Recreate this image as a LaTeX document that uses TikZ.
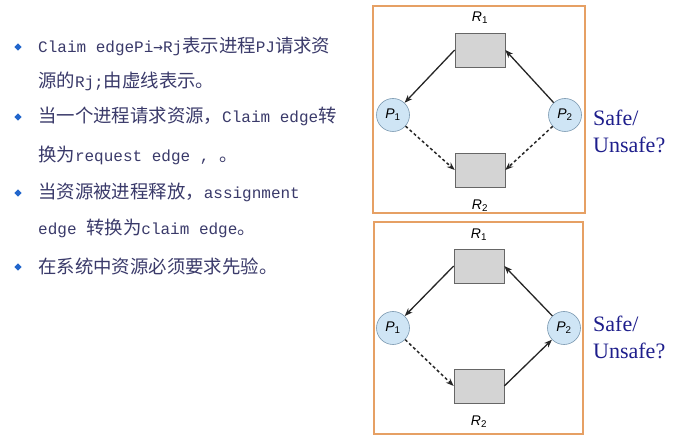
\documentclass[tikz,border=0pt]{standalone}
\usepackage{fontspec}
\setmainfont{Liberation Sans}
\newfontfamily\cjkfam{Noto Sans CJK SC}
\newfontfamily\monofam{Liberation Mono}
\newfontfamily\dvs{DejaVu Sans Mono}
\newfontfamily\tms{Liberation Serif}
\newcommand{\cjk}{\cjkfam\fontsize{18.4}{18.4}\selectfont}
\newcommand{\mono}{\monofam\fontsize{16}{16}\selectfont}
\usetikzlibrary{arrows.meta,shapes.geometric}
\definecolor{txt}{HTML}{3A3A6A}
\definecolor{bul}{HTML}{2266CC}
\definecolor{frame}{HTML}{E6A064}
\definecolor{safe}{HTML}{1E1E8C}
\definecolor{resfill}{HTML}{D4D4D4}
\definecolor{procfill}{HTML}{CFE5F5}
\definecolor{procdraw}{HTML}{7A98B0}
\tikzset{
  line/.style={font=\fontsize{16}{16}\selectfont, text=txt, anchor=base west, inner sep=0pt},
  bullet/.style={diamond, fill=bul, inner sep=0pt, minimum size=7.5pt},
  framebox/.style={draw=frame, line width=2.5pt},
  res/.style={draw=black!60, fill=resfill, minimum width=50pt, minimum height=34pt, inner sep=0pt, line width=0.6pt},
  proc/.style={circle, draw=procdraw, fill=procfill, minimum size=33pt, inner sep=0pt, line width=0.6pt, font=\fontsize{14}{14}\selectfont},
  lab/.style={font=\fontsize{14}{14}\selectfont, inner sep=0pt},
  safetxt/.style={font=\tms\fontsize{22}{27}\selectfont, text=safe, align=left, anchor=west, inner sep=0pt},
  req/.style={-{Stealth[length=8pt,width=6pt]}, line width=1.3pt, black!85},
  claim/.style={-{Stealth[length=8pt,width=6pt]}, line width=1.5pt, black!85, dash pattern=on 3pt off 2.5pt},
}
\begin{document}
\begin{tikzpicture}[x=1pt,y=-1pt]
\useasboundingbox (0,0) rectangle (680,443);
\fill[white] (0,0) rectangle (680,443);
% left text
\node[bullet] (b1) at (18,47) {};
\node[bullet] (b2) at (18,117) {};
\node[bullet] (b3) at (18,193) {};
\node[bullet] (b4) at (18,267) {};
\node[line] (l1) at (38,53) {{\mono Claim edgePi}{\dvs\fontsize{16}{16}\selectfont →}{\mono Rj}{\cjk 表示进程}{\mono PJ}{\cjk 请求资}};
\node[line] (l2) at (38,88) {{\cjk 源的}{\mono Rj;}{\cjk 由虚线表示。}};
\node[line] (l3) at (38,123) {{\cjk 当一个进程请求资源，}{\mono Claim edge}{\cjk 转}};
\node[line] (l4) at (38,162) {{\cjk 换为}{\mono request edge ,~}{\cjk 。}};
\node[line] (l5) at (38,199) {{\cjk 当资源被进程释放，}{\mono assignment}};
\node[line] (l6) at (38,235) {{\mono edge }{\cjk 转换为}{\mono claim edge}{\cjk 。}};
\node[line] (l7) at (38,274) {{\cjk 在系统中资源必须要求先验。}};
% top diagram
\draw[framebox] (373,6) rectangle (585,213);
\node[res] (r1a) at (480,50) {};
\node[res] (r2a) at (480,170) {};
\node[lab] (r1al) at (480,18) {\itshape R\textsubscript{\upshape 1}};
\node[lab] (r2al) at (480,206) {\itshape R\textsubscript{\upshape 2}};
\node[proc] (p1a) at (393,115) {\itshape P\textsubscript{\upshape 1}};
\node[proc] (p2a) at (565,115) {\itshape P\textsubscript{\upshape 2}};
\draw[req] (r1a.west) -- (p1a);
\draw[req] (p2a) -- (r1a.east);
\draw[claim] (p1a) -- (r2a.west);
\draw[claim] (p2a) -- (r2a.east);
\node[safetxt] (s1) at (593,131) {Safe/\\Unsafe?};
% bottom diagram
\draw[framebox] (374,222) rectangle (583,434);
\node[res] (r1b) at (479,266) {};
\node[res] (r2b) at (479,386) {};
\node[lab] (r1bl) at (479,235) {\itshape R\textsubscript{\upshape 1}};
\node[lab] (r2bl) at (479,422) {\itshape R\textsubscript{\upshape 2}};
\node[proc] (p1b) at (393,328) {\itshape P\textsubscript{\upshape 1}};
\node[proc] (p2b) at (564,328) {\itshape P\textsubscript{\upshape 2}};
\draw[req] (r1b.west) -- (p1b);
\draw[req] (p2b) -- (r1b.east);
\draw[claim] (p1b) -- (r2b.west);
\draw[req] (r2b.east) -- (p2b);
\node[safetxt] (s2) at (593,337) {Safe/\\Unsafe?};
\end{tikzpicture}
\end{document}
